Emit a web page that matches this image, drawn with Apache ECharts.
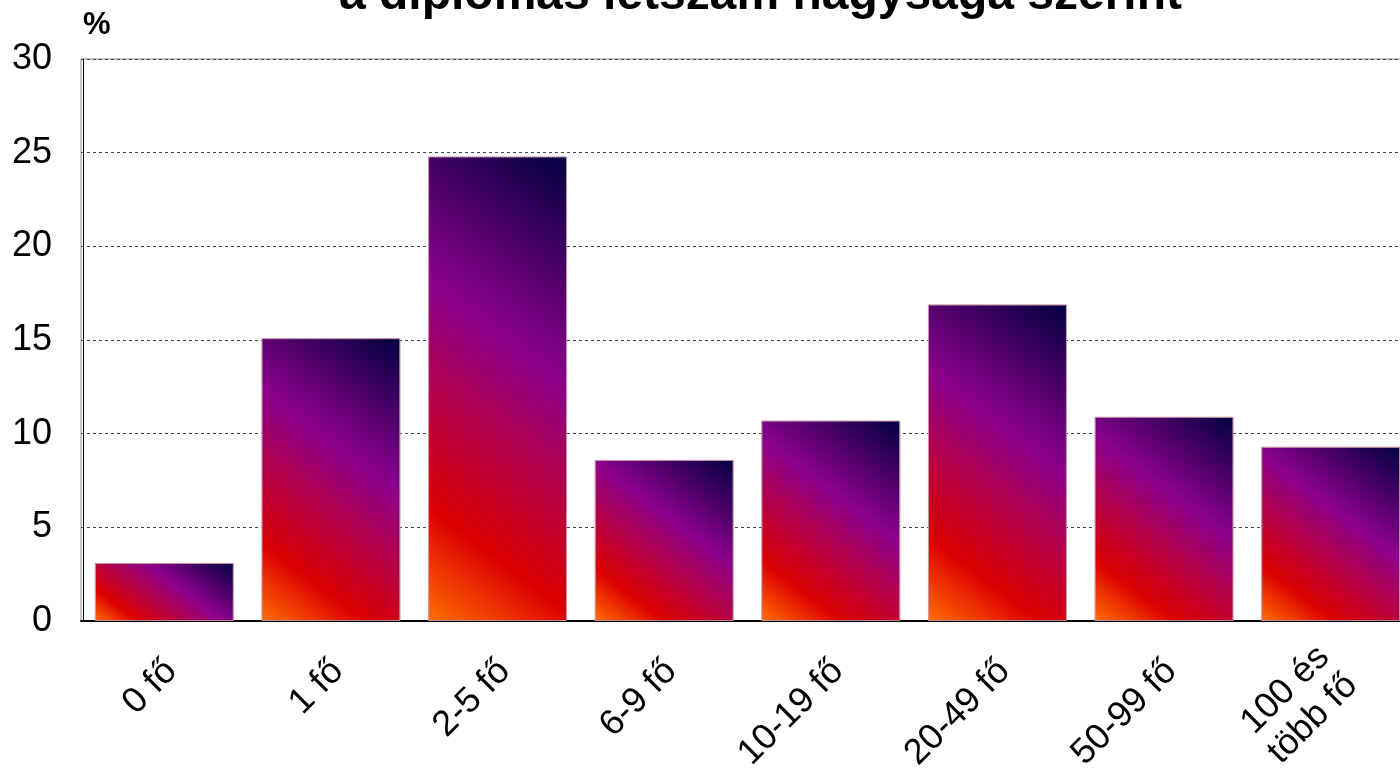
<!DOCTYPE html>
<html>
<head>
<meta charset="utf-8">
<script src="https://cdn.jsdelivr.net/npm/echarts@6/dist/echarts.min.js"></script>
<style>
  html, body { margin: 0; padding: 0; background: #fff; }
  #ct { width: 1400px; height: 784px; }
</style>
</head>
<body>
<div id="ct"></div>
<script>
const categories = ["0 fő", "1 fő", "2-5 fő", "6-9 fő", "10-19 fő", "20-49 fő", "50-99 fő", "100 és\ntöbb fő"];
const values = [3.1, 15.1, 24.8, 8.6, 10.7, 16.9, 10.9, 9.3];
const yTicks = [0, 5, 10, 15, 20, 25, 30];

const chart = echarts.init(document.getElementById("ct"));
const font = "Liberation Sans";

// fill stops, orange bottom-left -> navy top-right
const stops = [
  { offset: 0, color: "#ff7000" },
  { offset: 0.2, color: "#dc0000" },
  { offset: 0.6, color: "#8c008c" },
  { offset: 1, color: "#000040" }
];

const option = {
  animation: false,
  backgroundColor: "#fff",
  title: {
    text: "a diplomás létszám nagysága szerint",
    left: 334,
    top: -33,
    textStyle: { fontFamily: font, fontWeight: "bold", fontSize: 48, color: "#000" }
  },
  grid: {
    left: 81,
    width: 1333,
    top: 59,
    bottom: 163,
    outerBoundsMode: "none",
    show: true,
    borderColor: "#888",
    borderWidth: 1
  },
  xAxis: {
    type: "category",
    data: categories,
    axisLine: { lineStyle: { color: "#000", width: 2 } },
    axisTick: { show: false },
    axisLabel: {
      interval: 0,
      rotate: 45,
      margin: 52,
      padding: [0, -10, 0, 0],
      fontFamily: font,
      fontSize: 36,
      color: "#000",
      lineHeight: 40
    }
  },
  yAxis: {
    type: "value",
    min: 0,
    max: 30,
    interval: 5,
    offset: -2,
    name: "%",
    nameLocation: "end",
    nameGap: 18,
    nameTextStyle: {
      fontFamily: font,
      fontWeight: "bold",
      fontSize: 31,
      color: "#000",
      align: "left"
    },
    axisLine: { show: true, lineStyle: { color: "#000", width: 1 } },
    axisTick: { show: false },
    axisLabel: {
      margin: 31,
      fontFamily: font,
      fontSize: 36,
      color: "#000",
      formatter: v => (yTicks.indexOf(v) >= 0 ? String(v) : "")
    },
    splitLine: { show: true, lineStyle: { color: "#444", type: [3, 3], width: 1 } }
  },
  series: [
    {
      type: "bar",
      data: values,
      barCategoryGap: "16.6%",
      itemStyle: {
        color: "#880088",
        borderColor: "rgba(200,150,170,0.7)",
        borderWidth: 1
      }
    }
  ]
};

chart.setOption(option);

// gradient at a fixed screen angle, spanning each bar corner to corner
const dx = 0.6, dy = -0.8;
const data = chart.getModel().getSeriesByIndex(0).getData();
const items = values.map((v, i) => {
  const lay = data.getItemLayout(i);
  const w = Math.abs(lay.width), h = Math.abs(lay.height);
  const len = dx * w - dy * h;
  return {
    value: v,
    itemStyle: {
      color: new echarts.graphic.LinearGradient(0, 1, (len * dx) / w, 1 + (len * dy) / h, stops)
    }
  };
});
chart.setOption({ series: [{ data: items }] });
</script>
</body>
</html>
